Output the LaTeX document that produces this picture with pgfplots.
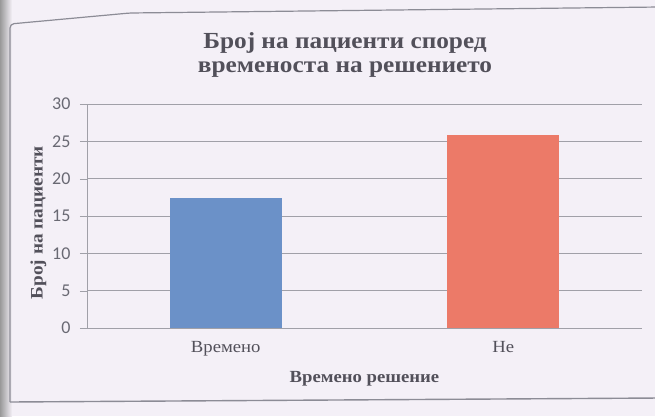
\documentclass[border=0pt]{standalone}
\usepackage{pgfplots}
\pgfplotsset{compat=1.18}
\usepackage{fontspec}
\setmainfont[FakeStretch=1.1]{Liberation Serif}
\newfontfamily\tickfont{Carlito}
\definecolor{bgc}{RGB}{244,240,247}
\definecolor{framec}{RGB}{140,140,150}
\definecolor{gridc}{RGB}{160,160,168}
\definecolor{textc}{RGB}{82,80,90}
\definecolor{tickc}{RGB}{105,105,115}
\definecolor{barblue}{RGB}{107,145,200}
\definecolor{barred}{RGB}{236,122,104}
\begin{document}
\begin{tikzpicture}
\path[use as bounding box] (0pt,0pt) rectangle (655pt,416pt);
\fill[bgc] (0pt,0pt) rectangle (655pt,416pt);
\shade[left color=black!40, right color=bgc] (0pt,0pt) rectangle (12pt,416pt);
\draw[framec, line width=1.2pt, rounded corners=4pt] (10pt,14pt) -- (10pt,392pt) -- (130pt,403pt) -- (660pt,409pt);
\draw[framec, line width=1.4pt] (10pt,14pt) -- (660pt,18pt);
\begin{axis}[
  at={(87pt,88pt)}, anchor=south west, scale only axis,
  width=555pt, height=224pt,
  xmin=0, xmax=2, ymin=0, ymax=30,
  ytick={0,5,10,15,20,25,30},
  xtick={0.5,1.5}, xticklabels={Времено,Не},
  ybar, bar width=112pt, bar shift=0pt,
  axis x line*=bottom, axis y line*=left,
  axis line style={gridc},
  ymajorgrids, grid style={gridc, line width=0.6pt},
  tick align=outside, major tick length=7pt,
  x tick style={draw=none}, y tick style={gridc},
  xticklabel style={font=\fontsize{17}{20}\selectfont, text=textc, yshift=-3pt},
  yticklabel style={font=\tickfont\fontsize{18}{20}\selectfont, text=tickc, xshift=-6pt},
  /pgf/number format/assume math mode=true,
  xlabel={Времено решение},
  xlabel style={font=\bfseries\fontsize{17}{20}\selectfont, text=textc, yshift=-8pt},
  ylabel={Број на пациенти},
  ylabel style={at={(ticklabel cs:0.47)}, font=\bfseries\fontsize{17.5}{20}\selectfont, text=textc, yshift=-1pt},
  title={Број на пациенти според\\временоста на решението},
  title style={at={(0.465,1)}, anchor=south, yshift=17pt, align=center,
    font=\bfseries\fontsize{23}{24}\selectfont, text=textc},
  clip=false,
]
\addplot[draw=none, fill=barblue] coordinates {(0.5,17.4)};
\addplot[draw=none, fill=barred] coordinates {(1.5,25.8)};
\end{axis}
\end{tikzpicture}
\end{document}
